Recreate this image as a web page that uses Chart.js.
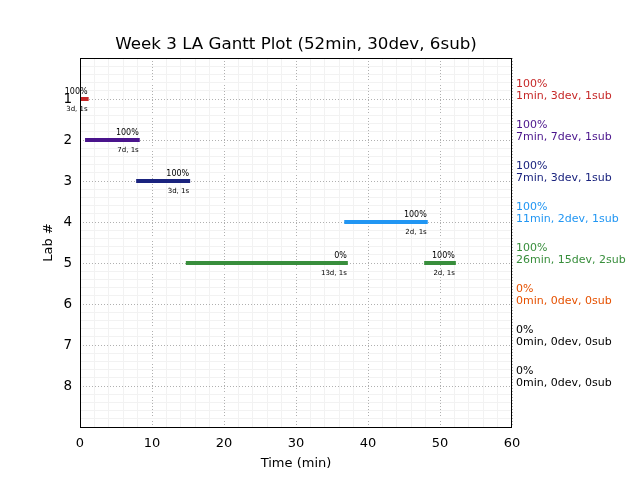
<!DOCTYPE html>
<html>
<head>
<meta charset="utf-8">
<script src="https://cdn.jsdelivr.net/npm/chart.js@4/dist/chart.umd.min.js"></script>
<style>
  html,body{margin:0;padding:0;background:#fff}
  #wrap{width:640px;height:480px}
</style>
</head>
<body>
<div id="wrap"><canvas id="c" width="640" height="480"></canvas></div>
<script>
// bar segments (one row per segment)
var segLab   = [1, 2, 3, 4, 5, 5];
var segStart = [0.1, 0.7, 7.8, 36.7, 14.7, 47.8];
var segEnd   = [1.2, 8.3, 15.3, 48.3, 37.2, 52.2];
var segPct   = ['100%', '100%', '100%', '100%', '0%', '100%'];
var segNote  = ['3d, 1s', '7d, 1s', '3d, 1s', '2d, 1s', '13d, 1s', '2d, 1s'];

// per-lab summary on the right
var labs       = [1, 2, 3, 4, 5, 6, 7, 8];
var labPct     = ['100%', '100%', '100%', '100%', '100%', '0%', '0%', '0%'];
var labSummary = ['1min, 3dev, 1sub', '7min, 7dev, 1sub', '7min, 3dev, 1sub', '11min, 2dev, 1sub',
                  '26min, 15dev, 2sub', '0min, 0dev, 0sub', '0min, 0dev, 0sub', '0min, 0dev, 0sub'];
var labColor   = ['#c62828', '#4a148c', '#1a237e', '#2196f3', '#388e3c', '#e65100', '#000000', '#000000'];

var xTicks = [0, 10, 20, 30, 40, 50, 60];
var yTicks = [1, 2, 3, 4, 5, 6, 7, 8];

var FONT = '"DejaVu Sans", sans-serif';

function isMajor(v, list){ return list.some(function(t){ return Math.abs(t - v) < 1e-6; }); }
function minorTicks(min, max, step){
  var out = [];
  var n = Math.round((max - min) / step);
  for (var i = 0; i <= n; i++) out.push({ value: +(min + i * step).toFixed(4) });
  return out;
}

var datasets = segLab.map(function(lab, i){
  return {
    data: [{ x: segStart[i], y: lab }, { x: segEnd[i], y: lab }],
    borderColor: labColor[lab - 1],
    borderWidth: 4,
    borderCapStyle: 'butt',
    pointRadius: 0,
    showLine: true,
    fill: false
  };
});

var overlay = {
  id: 'overlay',
  afterDatasetsDraw: function(chart){
    var c = chart.ctx, xs = chart.scales.x, ys = chart.scales.y, a = chart.chartArea;
    c.save();
    // frame
    c.strokeStyle = '#000'; c.lineWidth = 1;
    c.strokeRect(Math.round(a.left) + 0.5, Math.round(a.top) + 0.5, Math.round(a.right - a.left) - 1, Math.round(a.bottom - a.top));
    // segment labels
    c.fillStyle = '#000';
    c.textAlign = 'right';
    c.textBaseline = 'middle';
    segLab.forEach(function(lab, i){
      var px = xs.getPixelForValue(segEnd[i]) - 1;
      var py = ys.getPixelForValue(lab);
      c.font = '8px ' + FONT;
      c.fillText(segPct[i], px, py - 7);
      c.font = '7px ' + FONT;
      c.fillText(segNote[i], px, py + 10);
    });
    // right-hand summaries
    c.textAlign = 'left';
    c.font = '11px ' + FONT;
    labs.forEach(function(lab, i){
      var py = ys.getPixelForValue(lab);
      c.fillStyle = labColor[i];
      c.fillText(labPct[i], a.right + 4, py - 15);
      c.fillText(labSummary[i], a.right + 4, py - 3);
    });
    // titles
    c.fillStyle = '#000';
    c.textAlign = 'center';
    c.font = '16.7px ' + FONT;
    c.fillText('Week 3 LA Gantt Plot (52min, 30dev, 6sub)', (a.left + a.right) / 2, 45);
    c.font = '13px ' + FONT;
    c.fillText('Time (min)', (a.left + a.right) / 2, 464);
    c.translate(49, (a.top + a.bottom) / 2);
    c.rotate(-Math.PI / 2);
    c.fillText('Lab #', 0, 0);
    c.restore();
  }
};

new Chart(document.getElementById('c'), {
  type: 'scatter',
  data: { datasets: datasets },
  options: {
    responsive: false,
    animation: false,
    layout: { padding: { top: 58, right: 128, left: 0, bottom: 0 } },
    plugins: { legend: { display: false }, tooltip: { enabled: false }, title: { display: false } },
    scales: {
      x: {
        type: 'linear', min: 0, max: 60,
        afterBuildTicks: function(s){ s.ticks = minorTicks(0, 60, 2); },
        afterFit: function(s){ s.height = 53; },
        ticks: {
          autoSkip: false, maxRotation: 0, padding: 9, color: '#000',
          font: { family: FONT, size: 13 },
          callback: function(v){ return isMajor(v, xTicks) ? String(Math.round(v)) : ''; }
        },
        grid: {
          drawTicks: false,
          color: function(ctx){ return ctx.tick && isMajor(ctx.tick.value, xTicks) ? '#b0b0b0' : '#f2f2f2'; },
          lineWidth: 1
        },
        border: {
          display: false,
          dash: function(ctx){ return ctx.tick && isMajor(ctx.tick.value, xTicks) ? [1, 2] : []; }
        }
      },
      y: {
        type: 'linear', min: 0, max: 9, reverse: true,
        afterBuildTicks: function(s){ s.ticks = minorTicks(0, 9, 0.2); },
        afterFit: function(s){ s.width = 80; },
        ticks: {
          autoSkip: false, padding: 8, color: '#000',
          font: { family: FONT, size: 13.5 },
          callback: function(v){ return isMajor(v, yTicks) ? String(Math.round(v)) : ''; }
        },
        grid: {
          drawTicks: false,
          color: function(ctx){ return ctx.tick && isMajor(ctx.tick.value, yTicks) ? '#b0b0b0' : '#f2f2f2'; },
          lineWidth: 1
        },
        border: {
          display: false,
          dash: function(ctx){ return ctx.tick && isMajor(ctx.tick.value, yTicks) ? [1, 2] : []; }
        }
      }
    }
  },
  plugins: [overlay]
});
</script>
</body>
</html>
